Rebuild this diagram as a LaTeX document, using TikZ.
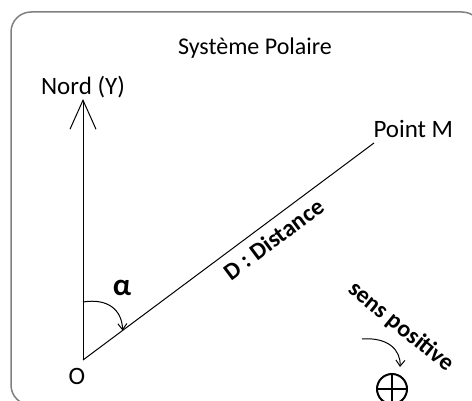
\documentclass[tikz,border=0pt]{standalone}
\usepackage{fontspec}
\setmainfont{Carlito}
\usetikzlibrary{positioning, arrows.meta}
\tikzset{
  lbl/.style={inner sep=0pt, font=\fontsize{25}{29}\selectfont},
  boldlbl/.style={inner sep=0pt, font=\fontsize{24}{28}\selectfont\bfseries},
  frame/.style={draw=black!50, line width=1.5pt, rounded corners=20pt},
  sign/.style={circle, draw, line width=2pt, minimum size=30pt, inner sep=0pt},
  >={Straight Barb[length=6pt, width=9pt]},
}

\begin{document}
\begin{tikzpicture}[x=1pt, y=-1pt, line width=1pt]
    \useasboundingbox (0,0) rectangle (472,401);
    \draw[frame] (11,12) rectangle (482,405);
    \node[lbl, anchor=base, font=\fontsize{24}{28}\selectfont] (title) at (255,55) {Système Polaire};
    \coordinate (o) at (83,360);
    \coordinate (n) at (83,99);
    \coordinate (m) at (374,143);
    \draw[-{Straight Barb[length=29pt, width=26pt]}] (o) -- (n);
    \node[lbl, above=1pt of n] (nord) {Nord (Y)};
    \node[lbl, below=8pt of o, xshift=-6pt] (orig) {O};
    \draw (o) -- (m) coordinate[pos=0.136] (a1)
      node[boldlbl, sloped, below=8pt, pos=0.62] (dist) {D : Distance};
    \node[lbl, above right=5pt and -1pt of m] (pm) {Point M};
    % angle alpha
    \coordinate (a0) at (83,302);
    \draw[->] (a0) .. controls (108,298) and (122,310) .. (a1);
    \node[boldlbl, font=\fontsize{31}{35}\selectfont\bfseries] (alpha) at (122,288) {α};
    % sens positive
    \node[boldlbl, rotate=-39] (sens) at (401,327) {sens positive};
    \node[sign] (plus) at (392,389) {};
    \draw[line width=2pt] (plus.north) -- (plus.south) (plus.west) -- (plus.east);
    \coordinate (s0) at (362,339);
    \coordinate (s1) at ([shift={(8,-6)}]plus.north);
    \draw[->] (s0) .. controls (388,337) and (401,350) .. (s1);
\end{tikzpicture}
\end{document}
